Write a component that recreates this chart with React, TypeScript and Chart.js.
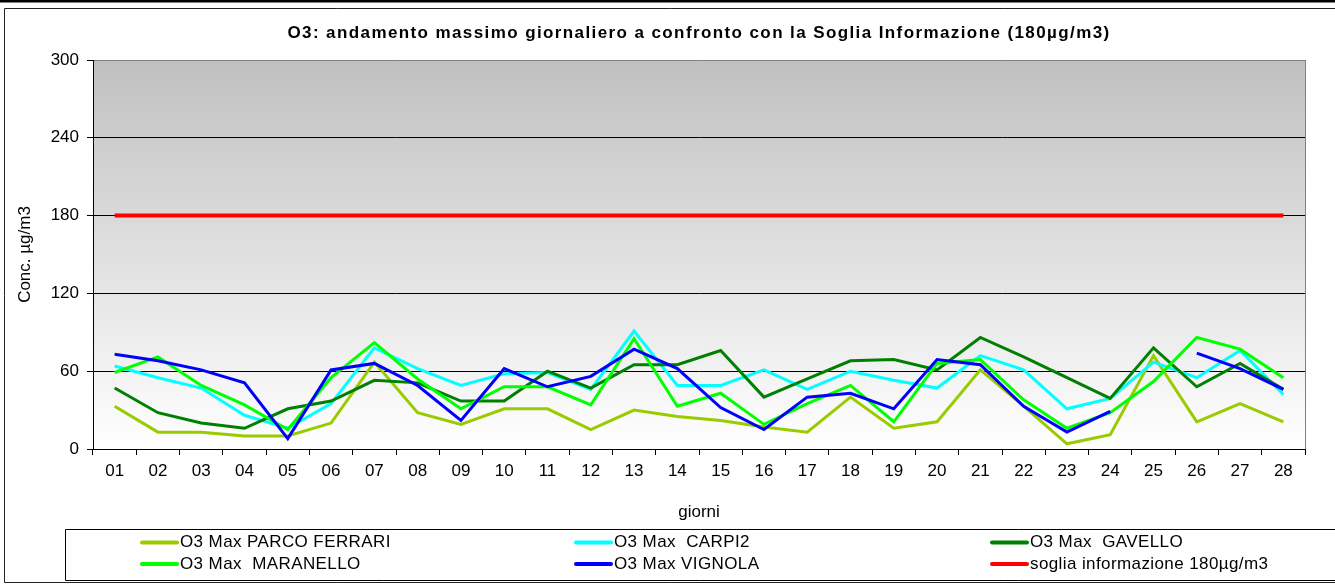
import React, { useEffect, useRef } from "react";
import { Chart, registerables } from "chart.js";

Chart.register(...registerables);

const days = ["01","02","03","04","05","06","07","08","09","10","11","12","13","14","15","16","17","18","19","20","21","22","23","24","25","26","27","28"];

const parcoFerrari = [33, 13, 13, 10, 10, 20, 67, 28, 19, 31, 31, 15, 30, 25, 22, 17, 13, 40, 16, 21, 61, 33, 4, 11, 72, 21, 35, 21];
const carpi2 = [64, 55, 47, 26, 16, 35, 78, 62, 49, 58, 59, 46, 91, 49, 49, 61, 46, 60, 53, 47, 72, 61, 31, 39, 67, 55, 76, 42];
const gavello = [47, 28, 20, 16, 31, 37, 53, 51, 37, 37, 60, 47, 65, 65, 76, 40, 54, 68, 69, 61, 86, 71, 55, 39, 78, 48, 66, 46];
const maranello = [59, 71, 49, 34, 15, 55, 82, 54, 31, 48, 48, 34, 85, 33, 43, 19, 35, 49, 21, 66, 69, 38, 16, 28, 52, 86, 77, 55];
const vignola = [73, 68, 61, 51, 8, 61, 66, 49, 22, 62, 48, 56, 77, 62, 32, 15, 40, 43, 31, 69, 65, 33, 13, 29, null, 74, 62, 46];
const soglia = [180, 180, 180, 180, 180, 180, 180, 180, 180, 180, 180, 180, 180, 180, 180, 180, 180, 180, 180, 180, 180, 180, 180, 180, 180, 180, 180, 180];

const yTicks = [0, 60, 120, 180, 240, 300];

const chartTitle = "O3: andamento massimo giornaliero a confronto con la Soglia Informazione (180µg/m3)";
const yTitle = "Conc. µg/m3";
const xTitle = "giorni";

const seriesLabels = [
  "O3 Max PARCO FERRARI",
  "O3 Max  CARPI2",
  "O3 Max  GAVELLO",
  "O3 Max  MARANELLO",
  "O3 Max VIGNOLA",
  "soglia informazione 180µg/m3",
];
const seriesColors = ["#99cc00", "#00ffff", "#008000", "#00ff00", "#0000ff", "#ff0000"];
const seriesData = [parcoFerrari, carpi2, gavello, maranello, vignola, soglia];

const FONT = "'Liberation Sans', Arial, sans-serif";

const framePlugin = {
  id: "framePlugin",
  beforeDraw(chart: any) {
    const { ctx, chartArea: a, width, height } = chart;
    ctx.save();
    ctx.fillStyle = "#ffffff";
    ctx.fillRect(0, 0, width, height);
    const g = ctx.createLinearGradient(0, a.top, 0, a.bottom);
    g.addColorStop(0, "#c0c0c0");
    g.addColorStop(1, "#ffffff");
    ctx.fillStyle = g;
    ctx.fillRect(a.left, a.top, a.right - a.left, a.bottom - a.top);
    // outer frame
    ctx.fillStyle = "#000";
    ctx.fillRect(0, 0, width, 2.5);
    ctx.strokeStyle = "#222";
    ctx.lineWidth = 1;
    ctx.beginPath();
    ctx.moveTo(width + 1, 8.5);
    ctx.lineTo(4.5, 8.5);
    ctx.lineTo(4.5, 582.5);
    ctx.lineTo(width + 1, 582.5);
    ctx.stroke();
    // legend box
    ctx.strokeStyle = "#000";
    ctx.beginPath();
    ctx.moveTo(width + 1, 529.5);
    ctx.lineTo(65.5, 529.5);
    ctx.lineTo(65.5, 580.5);
    ctx.lineTo(width + 1, 580.5);
    ctx.stroke();
    ctx.restore();
  },
  beforeDatasetsDraw(chart: any) {
    const { ctx, chartArea: a } = chart;
    ctx.save();
    ctx.strokeStyle = "#808080";
    ctx.lineWidth = 1;
    ctx.beginPath();
    ctx.moveTo(Math.round(a.right) + 0.5, a.top);
    ctx.lineTo(Math.round(a.right) + 0.5, a.bottom);
    ctx.stroke();
    ctx.restore();
  },
  afterDraw(chart: any) {
    const { ctx, chartArea: a } = chart;
    ctx.save();
    // title
    ctx.fillStyle = "#000";
    ctx.font = `bold 17px ${FONT}`;
    (ctx as any).letterSpacing = "1.4px";
    ctx.textAlign = "center";
    ctx.textBaseline = "middle";
    ctx.fillText(chartTitle, (a.left + a.right) / 2, 33);
    // legend
    const colX = [142, 576, 992];
    const rowY = [542.5, 564];
    ctx.font = `17px ${FONT}`;
    (ctx as any).letterSpacing = "0.4px";
    ctx.textAlign = "left";
    seriesLabels.forEach((label, i) => {
      const col = i % 3;
      const row = Math.floor(i / 3);
      const x = colX[col];
      const y = rowY[row];
      ctx.strokeStyle = seriesColors[i];
      ctx.lineWidth = 4;
      ctx.lineCap = "round";
      ctx.beginPath();
      ctx.moveTo(x, y);
      ctx.lineTo(x + 35, y);
      ctx.stroke();
      ctx.fillStyle = "#000";
      ctx.fillText(label, x + 38, y);
    });
    ctx.restore();
  },
};

export default function App() {
  const canvasRef = useRef<HTMLCanvasElement | null>(null);

  useEffect(() => {
    document.body.style.margin = "0";
    const canvas = canvasRef.current;
    if (!canvas) return;
    const chart = new Chart(canvas, {
      type: "line",
      data: {
        labels: days,
        datasets: seriesData.map((d, i) => ({
          label: seriesLabels[i],
          data: d,
          borderColor: seriesColors[i],
          backgroundColor: seriesColors[i],
          borderWidth: i === 5 ? 4 : 3,
          pointRadius: 0,
          tension: 0,
          fill: false,
          spanGaps: false,
          order: 10 - i,
        })),
      },
      options: {
        responsive: false,
        animation: false,
        devicePixelRatio: 1,
        layout: { padding: { top: 60, right: 30, bottom: 0, left: 0 } },
        font: { family: FONT },
        plugins: {
          legend: { display: false },
          title: { display: false },
          tooltip: { enabled: false },
        },
        scales: {
          x: {
            type: "category",
            offset: true,
            grid: {
              offset: true,
              drawOnChartArea: false,
              drawTicks: true,
              tickLength: 6,
              color: "#000",
            },
            border: { color: "#000", width: 1 },
            ticks: {
              color: "#000",
              font: { size: 17, family: FONT },
              padding: 6,
              maxRotation: 0,
              autoSkip: false,
            },
            title: {
              display: true,
              text: xTitle,
              color: "#000",
              font: { size: 17, family: FONT },
              padding: { top: 0, bottom: 61 },
            },
            afterFit(scale: any) {
              scale.height = 135;
            },
          },
          y: {
            min: 0,
            max: 300,
            afterBuildTicks(scale: any) {
              scale.ticks = yTicks.map((v) => ({ value: v }));
            },
            grid: {
              color: (c: any) => (c.tick && c.tick.value === 300 ? "#808080" : "#000"),
              tickColor: "#000",
              tickLength: 6,
              lineWidth: 1,
            },
            border: { color: "#000", width: 1 },
            ticks: {
              color: "#000",
              font: { size: 17, family: FONT },
              padding: 8,
            },
            title: {
              display: true,
              text: yTitle,
              color: "#000",
              font: { size: 17, family: FONT },
              padding: { top: 15, bottom: 0 },
            },
            afterFit(scale: any) {
              scale.width = 93;
            },
          },
        },
      },
      plugins: [framePlugin],
    } as any);
    return () => chart.destroy();
  }, []);

  return (
    <div style={{ width: 1335, height: 584, position: "relative" }}>
      <canvas ref={canvasRef} width={1335} height={584} />
    </div>
  );
}
